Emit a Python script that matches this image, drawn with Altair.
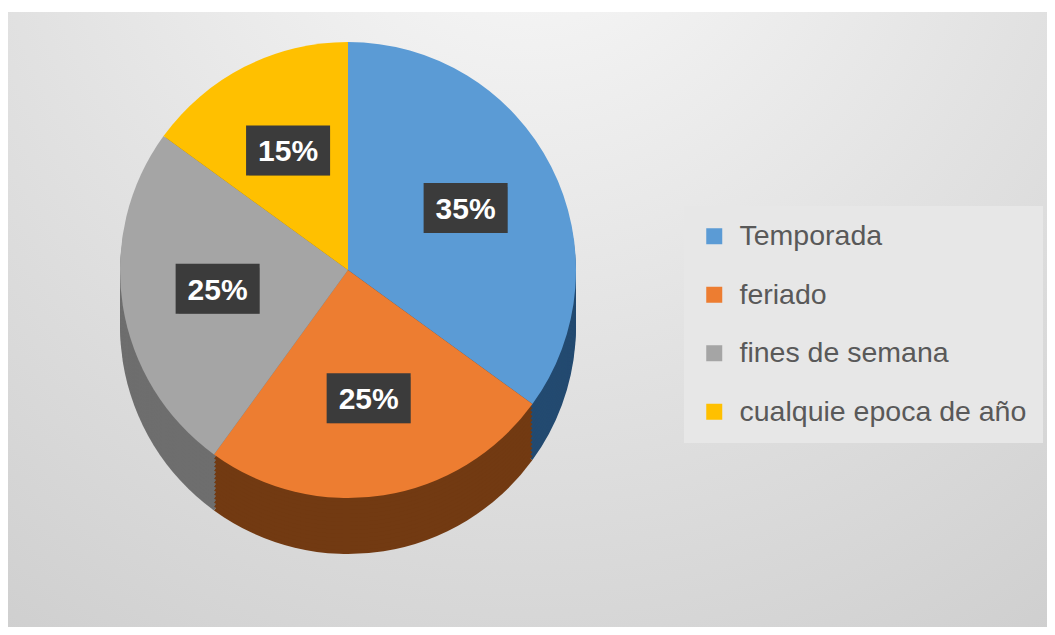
import altair as alt
import pandas as pd

# ---- data ----
categories = ["Temporada", "feriado", "fines de semana", "cualquie epoca de año"]
values = [35, 25, 25, 15]
labels = ["35%", "25%", "25%", "15%"]

# ---- styles ----
top_colors = ["#5b9bd5", "#ed7d31", "#a5a5a5", "#ffc000"]
side_colors = ["#234a70", "#723a12", "#6e6e6e", "#9a7400"]

df = pd.DataFrame({
    "category": categories,
    "value": values,
    "label": labels,
    "idx": list(range(len(categories))),
})

W, H = 1039, 619
CX, CY, R, DEPTH = 340, 262, 228, 56
LR = 132          # radius of the label centres
BW, BH = 84, 50   # label box size

theta = alt.Theta("value:Q", stack=True)
order = alt.Order("idx:Q")

bg = alt.Chart(alt.Data(values=[{"a": 1}])).mark_rect(
    color=alt.RadialGradient(
        gradient="radial",
        stops=[
            alt.GradientStop(color="#fafafa", offset=0),
            alt.GradientStop(color="#e2e2e2", offset=0.45),
            alt.GradientStop(color="#c6c6c6", offset=1),
        ],
        x1=0.5, y1=0.05, r1=0, x2=0.5, y2=0.05, r2=1.1,
    )
).encode(x=alt.value(0), x2=alt.value(W), y=alt.value(4), y2=alt.value(H))

layers = [bg]
for off in range(DEPTH, 0, -4):
    layers.append(
        alt.Chart(df).mark_arc(radius=R).encode(
            theta=theta,
            order=order,
            color=alt.Color("category:N",
                            scale=alt.Scale(domain=categories, range=side_colors),
                            legend=None),
            x=alt.value(CX),
            y=alt.value(CY + off),
        )
    )

top = alt.Chart(df).mark_arc(radius=R).encode(
    theta=theta,
    order=order,
    color=alt.Color(
        "category:N",
        scale=alt.Scale(domain=categories, range=top_colors),
        legend=alt.Legend(
            orient="none", legendX=676, legendY=198, title=None,
            symbolType="square", symbolSize=256, symbolStrokeWidth=0,
            labelFont="Liberation Sans", labelFontSize=28.5, labelColor="#595959",
            labelLimit=0, labelOffset=11, rowPadding=29.5,
            padding=16, fillColor="#e7e7e7",
        ),
    ),
    x=alt.value(CX),
    y=alt.value(CY),
)
layers.append(top)

# label boxes: centre of each slice at radius LR, computed from the data
boxes_base = alt.Chart(df).transform_window(
    cum="sum(value)", sort=[alt.SortField("idx")], frame=[None, 0]
).transform_joinaggregate(
    total="sum(value)"
).transform_calculate(
    ang="2*PI*(datum.cum - datum.value/2)/datum.total",
    bx=f"{CX} + {LR}*sin(datum.ang)",
    by=f"{CY} - {LR}*cos(datum.ang)",
    x1=f"datum.bx - {BW / 2}",
    x2=f"datum.bx + {BW / 2}",
    y1=f"datum.by - {BH / 2 + 2}",
    y2=f"datum.by + {BH / 2 - 2}",
)

box_shadow = boxes_base.mark_rect(color="#000000", opacity=0.22, xOffset=3, yOffset=4).encode(
    x=alt.X("x1:Q", scale=None), x2="x2:Q",
    y=alt.Y("y1:Q", scale=None), y2="y2:Q",
)
box = boxes_base.mark_rect(color="#3b3b3b").encode(
    x=alt.X("x1:Q", scale=None), x2="x2:Q",
    y=alt.Y("y1:Q", scale=None), y2="y2:Q",
)

txt = alt.Chart(df).mark_text(
    radius=LR, font="Liberation Sans", fontSize=30, fontWeight="bold",
    color="#ffffff", align="center", baseline="middle",
).encode(theta=theta, order=order, text="label:N", x=alt.value(CX), y=alt.value(CY))

layers += [box_shadow, box, txt]

chart = alt.layer(*layers).resolve_scale(color="independent").properties(
    width=W, height=H, autosize=alt.AutoSizeParams(type="none"), padding=0,
    background="#ffffff",
).configure_view(strokeWidth=0)

chart.save("out.html", embed_options={"renderer": "svg", "actions": False})
